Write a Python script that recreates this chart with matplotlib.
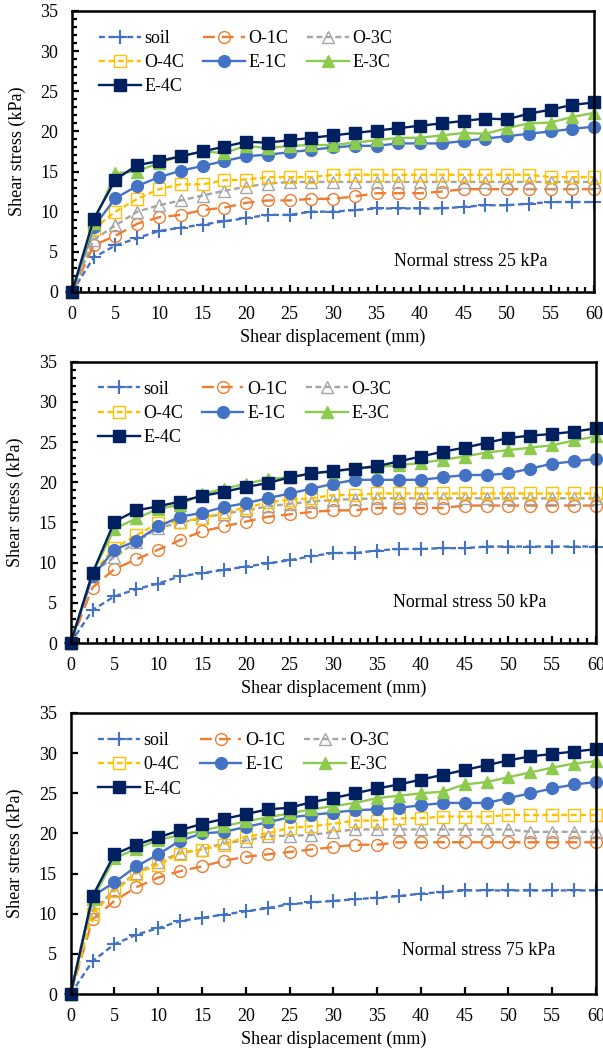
import numpy as np
import matplotlib
matplotlib.use("Agg")
import matplotlib.pyplot as plt
from matplotlib.ticker import MultipleLocator

plt.rcParams["font.family"] = ["Liberation Serif", "DejaVu Serif"]
fontsize = 13

# shear displacement (mm)
disp = np.arange(0, 60.1, 2.5)

labels = ["soil", "O-1C", "O-3C", "O-4C", "E-1C", "E-3C", "E-4C"]
labels_75 = ["soil", "O-1C", "O-3C", "0-4C", "E-1C", "E-3C", "E-4C"]

# normal stress 25 kPa
soil_25 = [0, 4.3, 5.8, 6.7, 7.6, 8.0, 8.4, 8.8, 9.2, 9.6, 9.6, 10.0, 10.0, 10.2, 10.4,
           10.4, 10.4, 10.4, 10.6, 10.8, 10.8, 11.0, 11.2, 11.2, 11.2]
o1c_25 = [0, 5.8, 7.0, 8.5, 9.3, 9.6, 10.2, 10.5, 11.1, 11.4, 11.4, 11.6, 11.6, 11.9, 12.3,
          12.3, 12.3, 12.5, 12.8, 12.8, 12.8, 12.8, 12.8, 12.8, 12.8]
o3c_25 = [0, 6.5, 8.3, 10.0, 10.8, 11.4, 12.0, 12.6, 13.1, 13.5, 13.7, 13.7, 13.7, 13.7, 13.7,
          13.7, 13.7, 13.7, 13.7, 13.7, 13.7, 13.7, 13.7, 13.7, 13.7]
o4c_25 = [0, 7.9, 10.0, 11.6, 12.8, 13.4, 13.4, 13.9, 14.0, 14.3, 14.3, 14.3, 14.6, 14.6, 14.6,
          14.6, 14.6, 14.6, 14.6, 14.6, 14.6, 14.6, 14.3, 14.3, 14.3]
e1c_25 = [0, 8.1, 11.7, 13.2, 14.3, 15.1, 15.7, 16.3, 16.9, 17.1, 17.4, 17.7, 18.0, 18.2, 18.2,
          18.5, 18.5, 18.5, 18.8, 19.1, 19.4, 19.7, 20.0, 20.3, 20.6]
e3c_25 = [0, 8.6, 14.8, 15.0, 16.1, 16.9, 17.5, 17.3, 18.2, 17.9, 18.2, 18.3, 18.3, 18.6, 18.9,
          19.2, 19.2, 19.5, 19.8, 19.7, 20.4, 21.0, 21.1, 21.8, 22.3]
e4c_25 = [0, 9.1, 14.0, 15.8, 16.3, 16.9, 17.5, 18.1, 18.7, 18.6, 18.9, 19.2, 19.5, 19.8, 20.1,
          20.4, 20.7, 21.0, 21.3, 21.6, 21.5, 22.2, 22.7, 23.3, 23.6]

# normal stress 50 kPa
soil_50 = [0, 4.1, 5.8, 6.7, 7.4, 8.3, 8.7, 9.1, 9.5, 9.9, 10.3, 10.8, 11.2, 11.2, 11.5,
           11.7, 11.7, 11.8, 11.8, 12.0, 12.0, 12.0, 12.0, 12.0, 12.0]
o1c_50 = [0, 6.9, 9.2, 10.4, 11.6, 12.8, 13.9, 14.5, 15.1, 15.7, 16.0, 16.3, 16.5, 16.5, 16.8,
          16.8, 16.8, 16.8, 17.1, 17.1, 17.1, 17.1, 17.1, 17.1, 17.1]
o3c_50 = [0, 8.7, 10.7, 12.6, 14.3, 15.0, 15.5, 16.1, 16.5, 17.0, 17.3, 17.6, 17.8, 17.9, 18.0,
          18.0, 18.0, 18.0, 18.0, 18.0, 18.0, 18.0, 18.0, 18.0, 18.0]
o4c_50 = [0, 8.7, 11.8, 13.4, 14.9, 15.1, 15.5, 16.3, 16.8, 17.5, 17.8, 18.0, 18.4, 18.4, 18.6,
          18.6, 18.6, 18.6, 18.6, 18.6, 18.6, 18.6, 18.6, 18.6, 18.6]
e1c_50 = [0, 8.3, 11.6, 12.7, 14.5, 15.7, 16.2, 16.9, 17.4, 18.0, 18.6, 19.2, 19.8, 20.3, 20.3,
          20.3, 20.3, 20.6, 20.9, 20.9, 21.1, 21.7, 22.3, 22.6, 22.9]
e3c_50 = [0, 8.7, 14.2, 15.5, 16.7, 17.2, 18.5, 19.2, 19.8, 20.4, 20.6, 21.1, 21.3, 21.7, 21.9,
          22.1, 22.4, 22.8, 23.2, 23.7, 24.0, 24.3, 24.6, 25.2, 25.7]
e4c_50 = [0, 8.7, 15.1, 16.5, 17.0, 17.6, 18.3, 18.8, 19.4, 19.9, 20.6, 21.1, 21.4, 21.7, 22.0,
          22.6, 23.2, 23.8, 24.3, 24.9, 25.5, 25.8, 26.0, 26.3, 26.7]

# normal stress 75 kPa
soil_75 = [0, 4.1, 6.2, 7.4, 8.2, 9.1, 9.5, 9.9, 10.3, 10.7, 11.2, 11.4, 11.6, 11.8, 12.0,
           12.2, 12.5, 12.7, 12.9, 12.9, 12.9, 12.9, 12.9, 12.9, 12.9]
o1c_75 = [0, 9.3, 11.6, 13.3, 14.5, 15.3, 15.9, 16.6, 17.1, 17.4, 17.7, 18.0, 18.3, 18.6, 18.6,
          18.9, 18.9, 18.9, 18.9, 18.9, 18.9, 18.9, 18.9, 18.9, 18.9]
o3c_75 = [0, 10.3, 13.0, 15.1, 16.4, 17.6, 18.0, 18.8, 19.1, 19.7, 19.7, 19.8, 20.2, 20.5, 20.5,
          20.5, 20.5, 20.5, 20.5, 20.5, 20.5, 20.2, 20.2, 20.2, 20.2]
o4c_75 = [0, 10.0, 12.8, 15.0, 16.1, 17.5, 18.0, 18.6, 19.6, 20.0, 20.7, 20.9, 21.2, 21.6, 21.6,
          21.9, 21.9, 22.1, 22.1, 22.1, 22.3, 22.3, 22.3, 22.3, 22.3]
e1c_75 = [0, 12.2, 13.9, 15.9, 17.4, 19.1, 20.0, 20.2, 20.8, 21.4, 22.0, 22.3, 22.6, 22.9, 23.0,
          23.2, 23.5, 23.8, 23.8, 23.8, 24.4, 25.0, 25.6, 26.1, 26.4]
e3c_75 = [0, 11.8, 16.9, 18.1, 19.2, 19.8, 20.4, 20.9, 21.5, 22.0, 22.5, 23.0, 23.4, 23.8, 24.4,
          24.7, 25.0, 25.2, 26.1, 26.4, 27.0, 27.6, 28.2, 28.7, 29.0]
e4c_75 = [0, 12.2, 17.4, 18.6, 19.5, 20.4, 21.2, 21.8, 22.4, 23.0, 23.2, 23.9, 24.4, 25.0, 25.6,
          26.1, 26.7, 27.3, 27.9, 28.5, 29.1, 29.6, 29.9, 30.2, 30.5]

panels = [
    ([soil_25, o1c_25, o3c_25, o4c_25, e1c_25, e3c_25, e4c_25], labels, "Normal stress 25 kPa", (45.8, 3.8)),
    ([soil_50, o1c_50, o3c_50, o4c_50, e1c_50, e3c_50, e4c_50], labels, "Normal stress 50 kPa", (45.6, 5.0)),
    ([soil_75, o1c_75, o3c_75, o4c_75, e1c_75, e3c_75, e4c_75], labels_75, "Normal stress 75 kPa", (46.6, 5.4)),
]

# colour, linestyle, marker, filled
styles = [
    ("#4472C4", (0, (2.5, 1.5)), "+", True),
    ("#ED7D31", (0, (5, 3)), "o", False),
    ("#A5A5A5", (0, (2.5, 1.5)), "^", False),
    ("#FFC000", (0, (2.5, 1.5)), "s", False),
    ("#4472C4", "-", "o", True),
    ("#8CCB4E", "-", "^", True),
    ("#002060", "-", "s", True),
]

# legend is filled row by row in the reference
legend_order = [0, 3, 6, 1, 4, 2, 5]

fig = plt.figure(figsize=(6.03, 10.51), dpi=100)
axes_pos = [
    [0.1194, 0.7222, 0.8657, 0.2674],
    [0.1172, 0.3882, 0.8711, 0.2677],
    [0.1172, 0.0542, 0.8711, 0.2674],
]

for i, (series, labs, note, note_xy) in enumerate(panels):
    ax = fig.add_axes(axes_pos[i])
    for y, lab, (c, ls, m, filled) in zip(series, labs, styles):
        ax.plot(disp, y, color=c, linestyle=ls, linewidth=1.7, marker=m,
                markersize=10 if m == "+" else 8.5,
                markeredgewidth=1.5 if m == "+" else 1.0,
                markerfacecolor=c if filled else "none",
                markeredgecolor=c, label=lab, clip_on=False)

    ax.set_xlim(0, 60)
    ax.set_ylim(0, 35)
    ax.xaxis.set_major_locator(MultipleLocator(5))
    ax.yaxis.set_major_locator(MultipleLocator(5))
    if i < 2:
        ax.xaxis.set_minor_locator(MultipleLocator(1))
        ax.yaxis.set_minor_locator(MultipleLocator(1))
    ax.tick_params(which="major", direction="in", length=5, width=1.6,
                   labelsize=fontsize, pad=10)
    ax.tick_params(which="minor", direction="in", length=3.5, width=1.6)
    for sp in ax.spines.values():
        sp.set_linewidth(1.8)

    ax.set_xlabel("Shear displacement (mm)", fontsize=fontsize)
    ax.set_ylabel("Shear stress (kPa)", fontsize=fontsize)
    ax.xaxis.set_label_coords(0.5, -0.13)
    ax.yaxis.set_label_coords(-0.088, 0.5)

    ax.text(note_xy[0], note_xy[1], note, fontsize=fontsize, ha="center", va="center")

    handles, hlabels = ax.get_legend_handles_labels()
    ax.legend([handles[k] for k in legend_order], [hlabels[k] for k in legend_order],
              loc="upper left", bbox_to_anchor=(0.052, 0.932), ncol=3, frameon=False,
              fontsize=fontsize, handlelength=2.3, handletextpad=0.2,
              columnspacing=1.05, labelspacing=0.4, borderpad=0, borderaxespad=0)

plt.savefig("out.png", dpi=100)
